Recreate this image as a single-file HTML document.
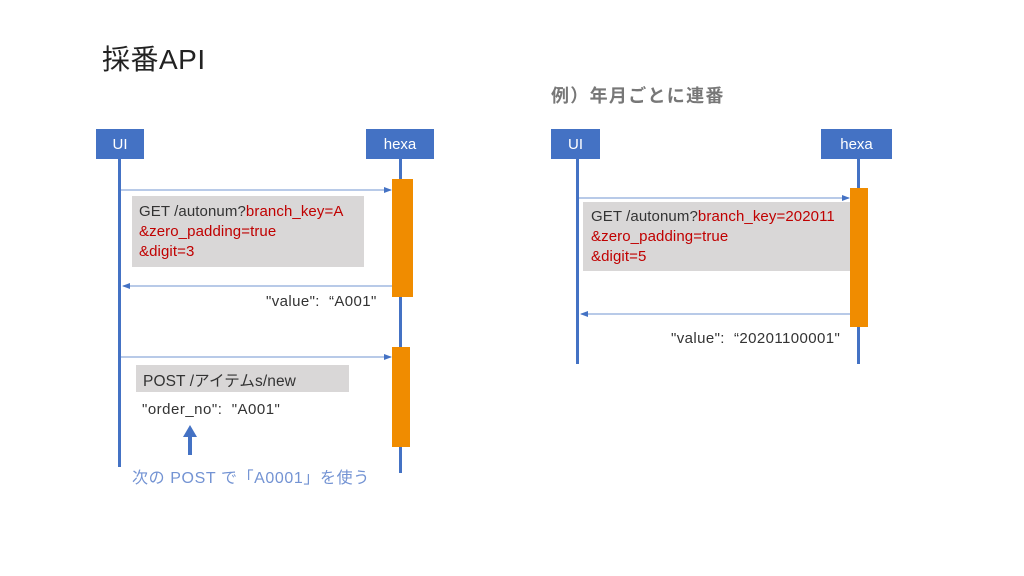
<!DOCTYPE html>
<html><head><meta charset="utf-8"><style>
body{margin:0;width:1024px;height:576px;background:#fff;position:relative;overflow:hidden;font-family:"Liberation Sans","Noto Sans CJK JP",sans-serif}
.a{position:absolute}
.box{position:absolute;background:#4472c4;color:#fff;font-size:15px;display:flex;align-items:center;justify-content:center}
.ll{position:absolute;width:3px;background:#4472c4}
.or{position:absolute;background:#f08c00}
.g{position:absolute;background:#d9d7d7}
.t{position:absolute;font-size:15px;color:#333;white-space:nowrap;letter-spacing:0.1px}
.r{color:#c00000}
</style></head><body>
<div class="t" style="left:102px;top:38px;font-size:28px;color:#222;letter-spacing:0.5px">採番API</div>
<div class="t" style="left:551px;top:82px;font-size:18px;font-weight:bold;color:#777;letter-spacing:1.3px">例）年月ごとに連番</div>

<div class="ll" style="left:118px;top:159px;height:308px"></div>
<div class="ll" style="left:399px;top:159px;height:314px"></div>
<div class="box" style="left:96px;top:129px;width:48px;height:30px">UI</div>
<div class="box" style="left:366px;top:129px;width:68px;height:30px">hexa</div>
<div class="or" style="left:392px;top:179px;width:21px;height:118px"></div>
<div class="or" style="left:392px;top:347px;width:18px;height:100px"></div>
<div class="g" style="left:132px;top:196px;width:232px;height:71px"></div>
<div class="t" style="left:139px;top:202px;line-height:20px">GET /autonum?<span class="r">branch_key=A</span><br><span class="r">&amp;zero_padding=true</span><br><span class="r">&amp;digit=3</span></div>
<div class="t" style="left:266px;top:293px;letter-spacing:0.4px">"value":&nbsp; “A001"</div>
<div class="g" style="left:136px;top:365px;width:213px;height:27px"></div>
<div class="t" style="left:143px;top:369px;font-size:15.5px">POST /アイテムs/new</div>
<div class="t" style="left:142px;top:401px;letter-spacing:0.5px">"order_no":&nbsp; "A001"</div>
<div class="t" style="left:132px;top:464px;font-size:16px;color:#7393d3;letter-spacing:0.6px">次の POST で「A0001」を使う</div>

<div class="ll" style="left:576px;top:159px;height:205px"></div>
<div class="ll" style="left:857px;top:159px;height:205px"></div>
<div class="box" style="left:551px;top:129px;width:49px;height:30px">UI</div>
<div class="box" style="left:821px;top:129px;width:71px;height:30px">hexa</div>
<div class="g" style="left:583px;top:202px;width:267px;height:69px"></div>
<div class="or" style="left:850px;top:188px;width:18px;height:139px"></div>
<div class="t" style="left:591px;top:207px;line-height:20px">GET /autonum?<span class="r">branch_key=202011</span><br><span class="r">&amp;zero_padding=true</span><br><span class="r">&amp;digit=5</span></div>
<div class="t" style="left:671px;top:330px;letter-spacing:0.4px">"value":&nbsp; “20201100001"</div>

<svg class="a" style="left:0;top:0" width="1024" height="576">
<defs><marker id="m" markerWidth="8" markerHeight="8" refX="7" refY="4" orient="auto" markerUnits="userSpaceOnUse"><path d="M0,1 L8,4 L0,7z" fill="#4472c4"/></marker></defs>
<g stroke="#8eaadb" stroke-width="1.3">
<line x1="121" y1="190" x2="391" y2="190" marker-end="url(#m)"/>
<line x1="392" y1="286" x2="123" y2="286" marker-end="url(#m)"/>
<line x1="121" y1="357" x2="391" y2="357" marker-end="url(#m)"/>
<line x1="579" y1="198" x2="849" y2="198" marker-end="url(#m)"/>
<line x1="850" y1="314" x2="581" y2="314" marker-end="url(#m)"/>
</g>
<rect x="188" y="436" width="4" height="19" fill="#4472c4"/>
<path d="M183,437 L190,425 L197,437z" fill="#4472c4"/>
</svg>
</body></html>
